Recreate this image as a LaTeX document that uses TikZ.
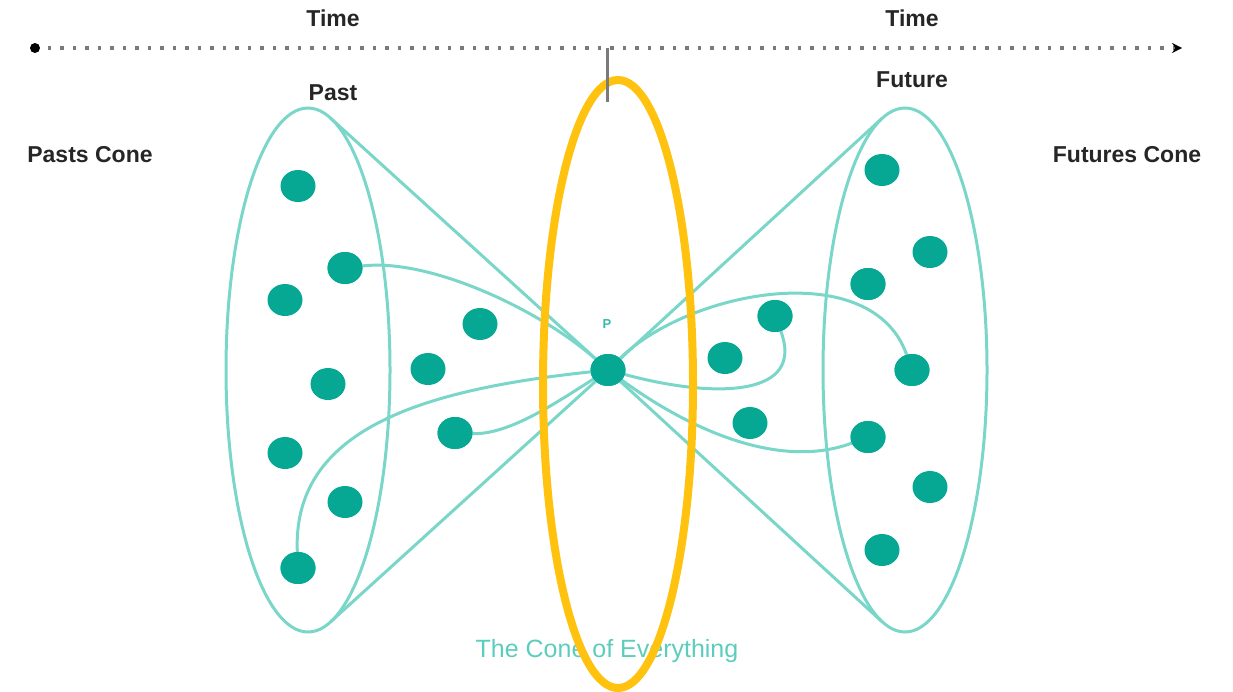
\documentclass[tikz,border=0pt]{standalone}
\usepackage{fontspec}
\setmainfont{Liberation Sans}
\usetikzlibrary{arrows.meta,shapes.geometric,calc}
\definecolor{tealline}{HTML}{79D6C9}
\definecolor{tealdot}{HTML}{06A893}
\definecolor{tealtext}{HTML}{5CCDBD}
\definecolor{gold}{HTML}{FFC20E}
\definecolor{axisgray}{HTML}{7A7A7A}
\begin{document}
\begin{tikzpicture}[x=1pt,y=-1pt,
  cone/.style={draw=tealline, line width=3pt, ellipse, minimum width=164pt, minimum height=524pt, inner sep=0pt, outer sep=0pt},
  dot/.style={fill=tealdot, ellipse, minimum width=35pt, minimum height=32pt, inner sep=0pt, outer sep=0pt},
  link/.style={draw=tealline, line width=3pt},
  lbl/.style={font=\bfseries\fontsize{23}{26}\selectfont, text=black!85, inner sep=0pt},
  axisline/.style={draw=axisgray, line width=4.5pt, dash pattern=on 3.5pt off 9pt},
  ring/.style={draw=gold, line width=8pt, ellipse, minimum width=150pt, minimum height=608pt, inner sep=0pt, outer sep=0pt}
]
\useasboundingbox (0,0) rectangle (1233,691);
% cones
\node[cone] (L) at (308,370) {};
\node[cone] (R) at (905,370) {};
% dots
\node[dot] (l1) at (298,186) {};
\node[dot] (l2) at (345,268) {};
\node[dot] (l3) at (285,300) {};
\node[dot] (l4) at (328,384) {};
\node[dot] (l5) at (285,453) {};
\node[dot] (l6) at (345,502) {};
\node[dot] (l7) at (298,568) {};
\node[dot] (m1) at (480,324) {};
\node[dot] (m2) at (428,369) {};
\node[dot] (m3) at (455,433) {};
\node[dot] (P) at (608,370) {};
\node[dot] (n1) at (775,316) {};
\node[dot] (n2) at (725,358) {};
\node[dot] (n3) at (750,423) {};
\node[dot] (r1) at (882,170) {};
\node[dot] (r2) at (930,252) {};
\node[dot] (r3) at (868,284) {};
\node[dot] (r4) at (912,370) {};
\node[dot] (r5) at (868,437) {};
\node[dot] (r6) at (930,487) {};
\node[dot] (r7) at (882,550) {};
% tangent points
\coordinate (Lt) at (330.4,118);
\coordinate (Lb) at (330.4,622);
\coordinate (Rt) at (881.8,118.5);
\coordinate (Rb) at (881.8,621.5);
% cone lines
\draw[link] (Lt) -- (P.center);
\draw[link] (Lb) -- (P.center);
\draw[link] (Rt) -- (P.center);
\draw[link] (Rb) -- (P.center);
% curves
\draw[link] (l2) .. controls (430,258) and (540,310) .. (P);
\draw[link] (l7) .. controls (292,430) and (420,390) .. (P);
\draw[link] (m3) .. controls (510,435) and (560,400) .. (P);
\draw[link] (P) .. controls (720,400) and (805,395) .. (n1);
\draw[link] (P) .. controls (690,290) and (872,256) .. (r4);
\draw[link] (P) .. controls (690,430) and (780,470) .. (r5);
% redraw dots on top of lines
\foreach \d in {l2,l7,m3,P,n1,r3,r4,r5}{\fill[tealdot] (\d.center) ellipse [x radius=17.5pt, y radius=16pt];}
\node[font=\bfseries\fontsize{13}{14}\selectfont, text=tealdot!80, inner sep=0pt] (plabel) at (607,324) {P};
% bottom title
\node[font=\fontsize{25}{27}\selectfont, text=tealtext, inner sep=0pt] (title) at (607,651) {The Cone of Everything};
% yellow ring
\node[ring] (Y) at (618,384) {};
% time axis
\coordinate (a0) at (35,48);
\coordinate (a1) at (1182,48);
\draw[axisline] (a0) -- (a1);
\fill[black] (a0) circle (5pt);
\draw[black, line width=2pt, -{Stealth[length=10pt,width=10pt]}] ($(a1)+(-5,0)$) -- (a1);
\coordinate (tk) at (607,48);
\coordinate (tb) at (607,102);
\draw[axisgray, line width=3pt] (tk) -- (tb);
% labels
\node[lbl] (time1) at (333,18) {Time};
\node[lbl] (time2) at (912,18) {Time};
\node[lbl] (past) at (333,93) {Past};
\node[lbl] (future) at (912,80) {Future};
\node[lbl] (pastcone) at (90,155) {Pasts Cone};
\node[lbl] (futcone) at (1127,155) {Futures Cone};
\end{tikzpicture}
\end{document}
